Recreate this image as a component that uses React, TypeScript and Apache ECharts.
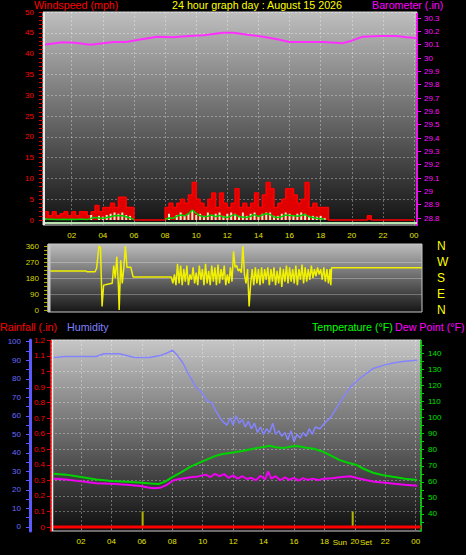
import React, { useEffect, useRef } from "react";
import * as echarts from "echarts";

const FONT = "'Liberation Sans', Arial, sans-serif";

// ---------- tick / label definitions ----------
const hourTicks = [2, 4, 6, 8, 10, 12, 14, 16, 18, 20, 22, 24];
const hourLabels = ["02", "04", "06", "08", "10", "12", "14", "16", "18", "20", "22", "00"];
const windLabelTicks = [0, 5, 10, 15, 20, 25, 30, 35, 40, 45, 50];
const windGridTicks = [5, 10, 15, 20, 25, 30, 35, 40, 45, 50];
const windMinorTicks = Array.from({ length: 51 }, (_, i) => i);
const baroTicks = [28.8, 28.9, 29.0, 29.1, 29.2, 29.3, 29.4, 29.5, 29.6, 29.7, 29.8, 29.9, 30.0, 30.1, 30.2, 30.3];
const dirTicks = [0, 90, 180, 270, 360];
const dirCompass = ["N", "E", "S", "W", "N"];
const dirMinorTicks = [0, 22.5, 45, 67.5, 90, 112.5, 135, 157.5, 180, 202.5, 225, 247.5, 270, 292.5, 315, 337.5, 360];
const dirGridTicks = [90, 180, 270];
const rainTicks = [0, 0.1, 0.2, 0.3, 0.4, 0.5, 0.6, 0.7, 0.8, 0.9, 1.0, 1.1, 1.2];
const rainGridTicks = [0.1, 0.2, 0.3, 0.4, 0.5, 0.6, 0.7, 0.8, 0.9, 1.0, 1.1, 1.2];
const humTicks = [0, 10, 20, 30, 40, 50, 60, 70, 80, 90, 100];
const humMinorTicks = [0, 5, 10, 15, 20, 25, 30, 35, 40, 45, 50, 55, 60, 65, 70, 75, 80, 85, 90, 95, 100];
const tempTicks = [40, 50, 60, 70, 80, 90, 100, 110, 120, 130, 140];
const tempMinorTicks = [35, 40, 45, 50, 55, 60, 65, 70, 75, 80, 85, 90, 95, 100, 105, 110, 115, 120, 125, 130, 135, 140, 145];

// ---------- data ----------
// wind, sampled every quarter hour from 00:15 to 24:00
const windGust = [
  2, 1, 2, 1, 1.5, 2, 1, 2,
  1, 2, 2, 1, 2, 3.5, 2, 3,
  3, 4, 3, 5.5, 5.5, 3, 3, 0,
  0, 0, 0, 0, 0, 0, 0, 3,
  4, 3, 4, 5, 4, 6, 9, 5,
  4, 3, 5, 6.5, 3, 6.5, 4, 3,
  4, 7.5, 3, 4, 3, 4, 6.5, 3,
  6, 9, 7.5, 3, 4, 5, 7.5, 7.5,
  6, 4, 5, 9, 3, 4, 3, 3,
  3, 0, 0, 0, 0, 0, 0, 0,
  0, 0, 0, 1, 0, 0, 0, 0,
  0, 0, 0, 0, 0, 0, 0, 0,
];
const windAvg = [
  0.3, 0.2, 0.2, 0.1, 0.1, 0.2, 0.1, 0.2,
  0.1, 0.2, 0.2, 0.1, 0.4, 0.6, 0.5, 0.4,
  0.6, 0.8, 1.0, 1.1, 1.0, 0.8, 0.5, 0.1,
  null, null, null, null, null, null, null, 0.2,
  0.5, 0.4, 0.9, 1.2, 1.0, 1.5, 2.4, 1.6,
  1.0, 0.8, 0.9, 1.2, 0.8, 1.1, 0.7, 0.6,
  1.0, 1.3, 0.8, 0.7, 0.6, 0.9, 1.3, 0.8,
  1.2, 1.5, 1.3, 0.7, 0.6, 0.8, 1.2, 1.1,
  1.0, 0.9, 1.1, 1.3, 0.8, 0.6, 0.4, 0.3,
  0.2, null, null, null, null, null, null, null,
  null, null, null, null, null, null, null, null,
  null, null, null, null, null, null, null, null,
];
const windSpeed = [
  0.4, 0, 0, 0, 0, 0, 0, 0,
  0, 0, 0, 0, 1.2, 0, 1.0, 0.8,
  1.2, 1.5, 1.8, 1.5, 1.8, 1.2, 1.0, 0,
  0, 0, 0, 0, 0, 0, 0, 0,
  1.5, 0, 1.2, 1.8, 1.0, 1.5, 2.2, 1.2,
  1.5, 1.0, 1.8, 1.0, 1.5, 1.8, 1.0, 1.5,
  1.8, 1.5, 1.0, 1.8, 1.0, 1.5, 1.8, 1.0,
  1.5, 1.8, 1.8, 1.0, 1.0, 1.5, 1.8, 1.5,
  1.0, 1.5, 1.8, 1.5, 1.0, 1.0, 0.8, 1.0,
  0.5, 0, 0, 0, 0, 0, 0, 0,
  0, 0, 0, 0, 0, 0, 0, 0,
  0, 0, 0, 0, 0, 0, 0, 0,
];
const windHours = windGust.map((_, i) => 0.25 * (i + 1));

const baroHours = [0.2, 1.4, 2.2, 3.2, 4.0, 4.7, 5.5, 6.5, 7.5, 8.5, 9.5, 10.5, 11.7, 12.4, 13.3, 14.3, 15.2, 16.0, 17.0, 18.2, 19.4, 20.0, 20.7, 21.7, 22.9, 23.5, 24.15];
const baroValues = [30.10, 30.118, 30.115, 30.10, 30.11, 30.12, 30.12, 30.14, 30.16, 30.155, 30.165, 30.17, 30.19, 30.19, 30.175, 30.16, 30.14, 30.12, 30.12, 30.12, 30.11, 30.13, 30.16, 30.165, 30.165, 30.155, 30.15];

const dirHours = [
  0.5, 2.9, 3.0, 3.5, 3.6, 3.75, 3.85, 3.95, 4.05, 4.3, 4.6, 4.7, 4.8, 4.9, 5.0, 5.05, 5.15, 5.25, 5.35, 5.45, 5.55, 5.8, 5.95,
  8.4, 8.5, 8.6, 8.7, 8.8, 8.9, 9.0, 9.1, 9.2, 9.3, 9.4, 9.5, 9.6, 9.7, 9.8, 9.9,
  10.0, 10.1, 10.2, 10.3, 10.4, 10.5, 10.6, 10.7, 10.8, 10.9, 11.0, 11.1, 11.2, 11.3, 11.4, 11.5, 11.6, 11.7, 11.8, 11.9,
  12.0, 12.1, 12.2, 12.3, 12.4, 12.5, 12.6, 12.7, 12.8, 12.9, 13.0, 13.1, 13.2, 13.3, 13.4, 13.5, 13.6, 13.7, 13.8, 13.9,
  14.0, 14.1, 14.2, 14.3, 14.4, 14.5, 14.6, 14.7, 14.8, 14.9, 15.0, 15.1, 15.2, 15.3, 15.4, 15.5, 15.6, 15.7, 15.8, 15.9,
  16.0, 16.1, 16.2, 16.3, 16.4, 16.5, 16.6, 16.7, 16.8, 16.9, 17.0, 17.1, 17.2, 17.3, 17.4, 17.5, 17.6, 17.7, 17.8, 17.9,
  18.0, 18.1, 18.2, 18.3, 18.4, 18.5, 18.6, 18.65, 18.7, 24.5,
];
const dirValues = [
  220, 220, 215, 215, 235, 360, 350, 20, 140, 145, 150, 250, 180, 300, 140, 0, 280, 150, 240, 360, 240, 240, 185,
  185, 150, 200, 140, 260, 150, 250, 140, 230, 160, 250, 140, 200, 170, 240, 150,
  210, 140, 250, 170, 230, 140, 260, 150, 220, 140, 250, 160, 240, 140, 255, 150, 230, 170, 250, 140,
  200, 150, 240, 160, 330, 240, 250, 220, 230, 210, 360, 200, 150, 230, 20, 150, 230, 140, 240, 150,
  230, 140, 240, 150, 230, 170, 240, 140, 230, 160, 240, 140, 220, 150, 240, 130, 230, 160, 250, 150,
  240, 160, 230, 150, 250, 140, 230, 170, 255, 150, 240, 160, 230, 170, 250, 180, 230, 190, 240, 200,
  230, 170, 240, 160, 230, 150, 230, 140, 238, 238,
];

const rainHours = [0.03, 24.35];
const rainValues = [0, 0];
const sunHours = [6.05, 19.86];
const sunMarks = [0.1, 0.1];

const humHours = [0.2, 1.0, 2.0, 3.0, 3.5, 4.5, 5.0, 5.5, 6.5, 7.2, 7.7, 8.0, 8.3, 8.7, 9.1, 9.6, 9.9, 10.3, 10.6, 10.9, 11.3, 11.6, 11.8, 12.0, 12.2, 12.4, 12.6, 12.8, 13.0, 13.2, 13.4, 13.6, 13.8, 14.0, 14.2, 14.4, 14.6, 14.8, 15.0, 15.2, 15.4, 15.6, 15.8, 16.0, 16.2, 16.4, 16.6, 16.8, 17.0, 17.2, 17.4, 17.7, 18.0, 18.4, 19.0, 19.7, 20.3, 21.2, 22.0, 22.5, 23.3, 24.1];
const humValues = [91.5, 92, 92, 92, 93.5, 93.5, 92.5, 91.5, 91.5, 92.5, 94, 95.5, 93, 88.5, 82, 75, 73, 68, 67, 62, 57, 55, 59, 55, 60, 56, 58, 54, 57, 53, 56, 51, 54, 50, 53, 51, 56, 50, 52, 49, 51, 47, 52, 46, 50, 48, 51, 49, 53, 50, 54, 53, 56, 59, 67, 75.5, 80, 85.5, 87.5, 88.5, 89.5, 90];

const tempHours = [0.2, 1.0, 2.0, 3.0, 4.0, 5.0, 6.0, 6.6, 7.1, 7.5, 8.0, 8.6, 9.2, 9.8, 10.3, 10.8, 11.3, 12.0, 12.5, 13.0, 13.5, 14.0, 14.4, 14.8, 15.3, 15.8, 16.2, 16.8, 17.3, 17.9, 18.5, 19.0, 19.5, 20.1, 20.6, 21.2, 21.8, 22.5, 23.3, 24.1];
const tempValues = [65, 64.5, 63, 61.5, 60.5, 60, 59.5, 59, 58.7, 60, 63, 66, 69.5, 72, 74, 76, 77.3, 78.3, 79, 80, 81, 81.7, 82.5, 81.5, 81, 82, 82.3, 81.2, 80.6, 78.8, 76, 73.5, 72, 70.5, 68, 65.7, 64.3, 63.2, 62, 61.2];

const dewHours = [0.2, 1.0, 2.0, 3.0, 4.0, 5.0, 5.9, 6.4, 6.8, 7.2, 7.6, 8.1, 8.6, 9.2, 9.7, 10.2, 10.5, 10.8, 11.1, 11.4, 11.7, 12.0, 12.3, 12.6, 12.9, 13.2, 13.5, 13.8, 14.1, 14.3, 14.5, 14.8, 15.1, 15.4, 15.7, 16.0, 16.3, 16.6, 16.9, 17.2, 17.6, 18.0, 18.5, 19.0, 19.7, 20.2, 20.8, 21.3, 22.0, 22.6, 23.3, 24.1];
const dewValues = [62, 61.5, 60.3, 59.2, 58.8, 58.2, 57.4, 56.5, 56, 56.3, 58, 61, 62, 62.8, 63.4, 64.5, 63, 65, 63.5, 64.8, 62.5, 64, 62, 63.5, 61.8, 62.5, 61, 63.8, 61.5, 66.5, 62, 63.5, 61, 62.8, 61.2, 62.5, 60.8, 62.3, 61.2, 62, 61.2, 62, 62.3, 62.8, 63.5, 62.3, 61, 60.1, 59.5, 58.8, 58.2, 57.6];

// ---------- helpers ----------
const zip = (xs: number[], ys: (number | null)[]) => xs.map((x, i) => [x, ys[i]]);
const grad = (a: string, b: string) =>
  new echarts.graphic.LinearGradient(0, 0, 0, 1, [
    { offset: 0, color: a },
    { offset: 1, color: b },
  ]);
const hourFmt = (v: number) => hourLabels[hourTicks.indexOf(Math.round(v))] ?? "";
const gridLine = { show: true, lineStyle: { color: "rgba(255,255,255,0.33)", type: [2, 2] as any, width: 1 } };
const noLine = { show: false };

function xAxisFor(gridIndex: number, min: number, max: number, labels: boolean, split: boolean) {
  return {
    type: "value",
    gridIndex,
    min,
    max,
    axisLine: noLine,
    axisTick: { show: labels, customValues: hourTicks, length: 3, lineStyle: { color: "#888" } },
    axisLabel: {
      show: labels,
      customValues: hourTicks,
      formatter: hourFmt,
      color: "#e4e400",
      fontSize: 8,
      fontFamily: FONT,
      margin: 6,
    },
    splitLine: split ? gridLine : noLine,
  };
}

const label = (color: string, margin: number, fontSize = 8) => ({
  color,
  fontSize,
  fontFamily: FONT,
  margin,
});

const txt = (text: string, x: number, y: number, fill: string, align: string, size = 10.7) => ({
  type: "text",
  x,
  y,
  style: {
    text,
    fill,
    font: `${size}px ${FONT}`,
    textAlign: align,
    textVerticalAlign: "middle",
    align,
    verticalAlign: "middle",
  },
});

const option: any = {
  animation: false,
  backgroundColor: "#000",
  grid: [
    { left: 43, top: 12, width: 374, height: 213, show: true, backgroundColor: grad("#bebebe", "#121212"), borderColor: "#d0d0d0", borderWidth: 1 },
    { left: 48, top: 244, width: 374, height: 68, show: true, backgroundColor: grad("#bcbcbc", "#161616"), borderColor: "#c8c8c8", borderWidth: 1 },
    { left: 51, top: 340, width: 370, height: 191, show: true, backgroundColor: grad("#c6c6c6", "#0e0e0e"), borderColor: "#d0d0d0", borderWidth: 1 },
  ],
  xAxis: [
    xAxisFor(0, 0.154, 24.19, true, true),
    xAxisFor(1, 0.476, 24.51, false, false),
    xAxisFor(2, 0.026, 24.35, true, true),
  ],
  yAxis: [
    // 0 windspeed
    {
      type: "value", gridIndex: 0, position: "left", min: -1.2, max: 50,
      axisLine: noLine,
      axisTick: { show: true, customValues: windMinorTicks, length: 4, lineStyle: { color: "#e00000" } },
      axisLabel: { ...label("#ff0000", 9), customValues: windLabelTicks },
      splitLine: noLine,
    },
    // 1 windspeed grid lines
    {
      type: "value", gridIndex: 0, position: "left", min: -1.2, max: 50,
      axisLine: noLine, axisTick: { show: false, customValues: windGridTicks }, axisLabel: { show: false },
      splitLine: gridLine,
    },
    // 2 barometer
    {
      type: "value", gridIndex: 0, position: "right", min: 28.7475, max: 30.345,
      axisLine: { show: true, lineStyle: { color: "#ff00ff", type: [1, 2] as any, width: 2 } },
      axisTick: { show: true, customValues: baroTicks, length: 4, lineStyle: { color: "#ff00ff" } },
      axisLabel: { ...label("#ff10ff", 7), customValues: baroTicks, formatter: (v: number) => String(Math.round(v * 10) / 10) },
      splitLine: noLine,
    },
    // 3 wind direction
    {
      type: "value", gridIndex: 1, position: "left", min: -11.25, max: 371.25,
      axisLine: noLine,
      axisTick: { show: true, customValues: dirMinorTicks, length: 4, lineStyle: { color: "#a8a800" } },
      axisLabel: { ...label("#d8d800", 9), customValues: dirTicks },
      splitLine: noLine,
    },
    // 4 direction grid lines
    {
      type: "value", gridIndex: 1, position: "left", min: -11.25, max: 371.25,
      axisLine: noLine, axisTick: { show: false, customValues: dirGridTicks }, axisLabel: { show: false },
      splitLine: { show: true, lineStyle: { color: "rgba(255,255,255,0.28)", width: 1 } },
    },
    // 5 compass letters
    {
      type: "value", gridIndex: 1, position: "right", min: -11.25, max: 371.25,
      axisLine: noLine, axisTick: { show: false, customValues: dirTicks },
      axisLabel: { ...label("#ffff00", 15, 12), customValues: dirTicks, formatter: (v: number) => dirCompass[dirTicks.indexOf(Math.round(v))] ?? "" },
      splitLine: noLine,
    },
    // 6 rainfall
    {
      type: "value", gridIndex: 2, position: "left", min: -0.0257, max: 1.2026,
      axisLine: { show: true, lineStyle: { color: "#e00000", type: [2, 2] as any, width: 2 } },
      axisTick: { show: true, customValues: rainTicks, length: 4, lineStyle: { color: "#e00000" } },
      axisLabel: { ...label("#ff0000", 6), customValues: rainTicks, formatter: (v: number) => String(Math.round(v * 10) / 10) },
      splitLine: noLine,
    },
    // 7 rainfall grid lines
    {
      type: "value", gridIndex: 2, position: "left", min: -0.0257, max: 1.2026,
      axisLine: noLine, axisTick: { show: false, customValues: rainGridTicks }, axisLabel: { show: false },
      splitLine: gridLine,
    },
    // 8 humidity
    {
      type: "value", gridIndex: 2, position: "left", offset: 21, min: -2.16, max: 100.92,
      axisLine: { show: true, lineStyle: { color: "#5a5aff", width: 3 } },
      axisTick: { show: true, customValues: humMinorTicks, length: 4, lineStyle: { color: "#5a5aff" } },
      axisLabel: { ...label("#6a6aff", 9), customValues: humTicks },
      splitLine: noLine,
    },
    // 9 temperature / dew point
    {
      type: "value", gridIndex: 2, position: "right", min: 29.42, max: 148.28,
      axisLine: { show: true, lineStyle: { color: "#00c000", type: [1, 2] as any, width: 2 } },
      axisTick: { show: true, customValues: tempMinorTicks, length: 3, lineStyle: { color: "#00d000" } },
      axisLabel: { ...label("#00e000", 7), customValues: tempTicks },
      splitLine: noLine,
    },
  ],
  series: [
    {
      name: "Gust", type: "line", xAxisIndex: 0, yAxisIndex: 0, step: "end", symbol: "none",
      data: zip(windHours, windGust),
      lineStyle: { color: "#ff0000", width: 1.5 },
      areaStyle: { color: "#e00000", opacity: 1 },
      z: 2,
    },
    {
      name: "Speed", type: "bar", xAxisIndex: 0, yAxisIndex: 0, barWidth: 2,
      data: zip(windHours, windSpeed),
      itemStyle: { color: "#d8f4d0" },
      z: 3,
    },
    {
      name: "Average", type: "line", xAxisIndex: 0, yAxisIndex: 0, symbol: "none",
      data: zip(windHours, windAvg),
      lineStyle: { color: "#00d000", width: 1.5 },
      z: 4,
    },
    {
      name: "Barometer", type: "line", xAxisIndex: 0, yAxisIndex: 2, symbol: "none",
      data: zip(baroHours, baroValues),
      lineStyle: { color: "#ff30ff", width: 2 },
      z: 4,
    },
    {
      name: "Direction", type: "line", xAxisIndex: 1, yAxisIndex: 3, symbol: "none",
      data: zip(dirHours, dirValues),
      lineStyle: { color: "#f0f000", width: 1.5 },
    },
    {
      name: "Humidity", type: "line", xAxisIndex: 2, yAxisIndex: 8, symbol: "none",
      data: zip(humHours, humValues),
      lineStyle: { color: "#8484ff", width: 1.5 },
    },
    {
      name: "Temperature", type: "line", xAxisIndex: 2, yAxisIndex: 9, symbol: "none",
      data: zip(tempHours, tempValues),
      lineStyle: { color: "#00d400", width: 2 },
    },
    {
      name: "Dew Point", type: "line", xAxisIndex: 2, yAxisIndex: 9, symbol: "none",
      data: zip(dewHours, dewValues),
      lineStyle: { color: "#f000f0", width: 2 },
    },
    {
      name: "Sun", type: "bar", xAxisIndex: 2, yAxisIndex: 6, barWidth: 2,
      data: zip(sunHours, sunMarks),
      itemStyle: { color: "#b4b400" },
    },
    {
      name: "Rainfall", type: "line", xAxisIndex: 2, yAxisIndex: 6, symbol: "none",
      data: zip(rainHours, rainValues),
      lineStyle: { color: "#ff0000", width: 3 },
      z: 5,
    },
  ],
  graphic: [
    { type: "line", shape: { x1: 44, y1: 223, x2: 417, y2: 223 }, style: { stroke: "#b8e4b0", lineWidth: 2 }, z: 10 },
    { type: "line", shape: { x1: 44, y1: 12, x2: 44, y2: 225 }, style: { stroke: "#e8e8e8", lineWidth: 2 }, z: 10 },
    { type: "line", shape: { x1: 49, y1: 244, x2: 49, y2: 312 }, style: { stroke: "#c4c4c4", lineWidth: 3 }, z: 10 },
    { type: "line", shape: { x1: 52.5, y1: 340, x2: 52.5, y2: 531 }, style: { stroke: "#f0f0f0", lineWidth: 1.5 }, z: 10 },
    txt("Windspeed (mph)", 34, 5, "#ff0000", "left"),
    txt("24 hour graph day : August 15 2026", 257, 5, "#ffff00", "center"),
    txt("Barometer (.in)", 372, 5, "#ff00ff", "left"),
    txt("Rainfall (.in)", 0, 327, "#ff0000", "left"),
    txt("Humidity", 67, 327, "#8080ff", "left"),
    txt("Temperature (°F)", 312, 327, "#00ff00", "left"),
    txt("Dew Point (°F)", 395, 327, "#ff00ff", "left"),
    txt("Sun", 347, 542, "#e4e400", "right", 8),
    txt("Set", 360, 542, "#e4e400", "left", 8),
  ],
};

export default function App() {
  const ref = useRef<HTMLDivElement>(null);
  useEffect(() => {
    const chart = echarts.init(ref.current!, null, { renderer: "svg" });
    chart.setOption(option);
    return () => chart.dispose();
  }, []);
  return (
    <div
      ref={ref}
      style={{ position: "fixed", left: 0, top: 0, width: 466, height: 555, background: "#000" }}
    />
  );
}
